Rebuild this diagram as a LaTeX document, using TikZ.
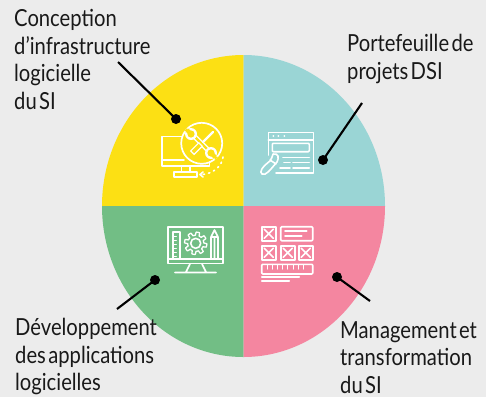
\documentclass[tikz,border=0pt]{standalone}
\usepackage{fontspec}
\setmainfont[FakeStretch=0.86]{Lato}
\definecolor{qbg}{HTML}{ECECEC}\definecolor{qy}{HTML}{FCE014}\definecolor{qb}{HTML}{9AD5D5}\definecolor{qg}{HTML}{72BE85}\definecolor{qp}{HTML}{F486A0}
\begin{document}
\begin{tikzpicture}[x=1pt,y=-1pt,
  lab/.style={anchor=north west,inner sep=0pt,align=left,text=black!90,font=\fontsize{23.5}{27.7}\selectfont,execute at begin node={\spaceskip=0.1em\relax}},
  ico/.style={draw=white,line width=1.6pt,fill=none,line join=round,line cap=round},
  conn/.style={draw=black,line width=2.1pt},
  dotc/.style={circle,fill=black,inner sep=0pt,minimum size=10pt},
  xbox/.pic={\draw[ico] (-7,-7) rectangle (7,7); \draw[ico] (-4.5,-4.5) -- (4.5,4.5) (4.5,-4.5) -- (-4.5,4.5);}]
\useasboundingbox (0,0) rectangle (486,397);
\fill[qbg] (0,0) rectangle (486,397);
% pie
\fill[qy] (243.5,206) -- (243.5,55) .. controls (165.4,55) and (102,122.6) .. (102,206) -- cycle;
\fill[qb] (243.5,206) -- (243.5,55) .. controls (321.6,55) and (385,122.6) .. (385,206) -- cycle;
\fill[qg] (243.5,206) -- (243.5,357) .. controls (165.4,357) and (102,289.4) .. (102,206) -- cycle;
\fill[qp] (243.5,206) -- (243.5,357) .. controls (321.6,357) and (385,289.4) .. (385,206) -- cycle;
% labels
\node[lab] (t1) at (14,9) {Conception\\d\char"27 infrastructure\\logicielle\\du SI};
\node[lab] (t2) at (347,34) {Portefeuille de\\projets DSI};
\node[lab] (t3) at (15,318) {Développement\\des applications\\logicielles};
\node[lab] (t4) at (340,321) {Management et\\transformation\\du SI};
% dots and connectors
\node[dotc] (d1) at (176,119) {};
\node[dotc] (d2) at (323,160) {};
\node[dotc] (d3) at (155,280) {};
\node[dotc] (d4) at (337,277) {};
\coordinate (e1) at (118,62);
\coordinate (e2) at (362,103);
\coordinate (e3) at (117,309);
\coordinate (e4) at (370,301);
\draw[conn] (d1.center) -- (e1);
\draw[conn] (d2.center) -- (e2);
\draw[conn] (d3.center) -- (e3);
\draw[conn] (d4.center) -- (e4);
% icon 1: monitor + tools
\draw[ico] (182,136.5) -- (162,136.5) -- (162,166) -- (209.5,166) -- (209.5,162);
\draw[ico] (162,160) -- (184,160);
\draw[ico] (181.5,166) -- (181.5,172) (190,166) -- (190,172);
\draw[ico] (174,172) rectangle (197,177);
\draw[ico,line width=1.7pt] (201.7,143.3) circle[radius=20.5];
% wrench
\draw[white,line width=5pt] (194,136) -- (210,152);
\draw[qy,line width=2.2pt] (195,137) -- (209,151);
\fill[white] (191,134) circle[radius=6] (211,153) circle[radius=6];
\fill[qy] (191,134) circle[radius=3.6] (211,153) circle[radius=3.6];
\fill[qy] (188.5,131.5) -- (187,128) -- (184,131) -- cycle (213.5,155.5) -- (218,157) -- (215,160) -- cycle;
\draw[qy,line width=4pt] (187,130) -- (191,134) (215,157) -- (211,153);
% screwdriver
\draw[white,line width=2.2pt,line cap=round] (213,132) -- (203,142);
\draw[white,line width=6pt] (201,144) -- (192,153);
\draw[qy,line width=3.2pt] (200,145) -- (193,152);
% dotted return arrow
\draw[ico,line width=1.6pt,dash pattern=on 1.4pt off 4pt] (223,157) .. controls (222,167) and (212,174) .. (202,174.5);
\draw[ico] (203,172) -- (200,174.5) -- (203,177);
% icon 2: window
\draw[ico] (268.3,155) -- (268.3,132.3) -- (313.3,132.3) -- (313.3,172.7) -- (276,172.7);
\draw[ico] (268.3,140) -- (313.3,140);
\fill[white] (273.3,136) circle[radius=1] (278.3,136) circle[radius=1] (284.3,136) circle[radius=1];
\draw[ico,rounded corners=1pt] (272.3,143.3) rectangle (309.3,151.7);
\draw[ico] (283,157.3) -- (309.3,157.3) (284,162.3) -- (290,162.3) (293,162.3) -- (309.3,162.3) (280,167.7) -- (290,167.7) (293,167.7) -- (309.3,167.7);
% brush
\draw[ico] (273,154) .. controls (279,153) and (279,158) .. (277,162) .. controls (270,170) and (266,176) .. (262,174) .. controls (259,172) and (262,167) .. (270,161) .. controls (272,159) and (272,156) .. (273,154) -- cycle;
\draw[ico] (270,160) -- (276,164);
% icon 3: screen
\draw[ico] (167.7,226.7) rectangle (222.7,263.3);
\draw[ico] (167.7,259) -- (222.7,259);
\draw[ico] (190,264) -- (186,272) (202,264) -- (206,272) (175,272.5) -- (216,272.5);
\draw[ico] (172.7,259) -- (172.7,231.7) -- (180,231.7) -- (180,259);
\foreach \y in {236,240,...,256} \draw[ico,line width=.9pt] (173,\y) -- (176.5,\y);
\draw[ico] (211,259) -- (211,237) -- (214.5,230) -- (218,237) -- (218,259) (211,237) -- (218,237) (214.5,237) -- (214.5,259);
\draw[ico] (195.7,243.3) circle[radius=5];
\draw[ico,line width=1.3pt] plot[samples=145,domain=0:360] ({195.7+(9.6+1.6*sign(sin(8*\x)))*cos(\x)},{243.3+(9.6+1.6*sign(sin(8*\x)))*sin(\x)}) -- cycle;
% icon 4: forms
\path (268.7,233.7) pic {xbox} (268.7,252.7) pic {xbox} (287.7,252.7) pic {xbox} (305.7,252.7) pic {xbox};
\draw[ico,rounded corners=1pt] (280.7,226.7) rectangle (312.7,240.7);
\draw[ico] (285,231) -- (306.7,231) (285,235.7) -- (301.7,235.7);
\draw[ico,rounded corners=1pt] (261.7,264.3) rectangle (312.7,274);
\foreach \x in {267,272.2,...,308} \draw[ico,line width=1pt] (\x,264.5) -- (\x,269);
\draw[ico] (261.7,276.9) -- (299.3,276.9) (261.7,281) -- (289.3,281);
\end{tikzpicture}
\end{document}
